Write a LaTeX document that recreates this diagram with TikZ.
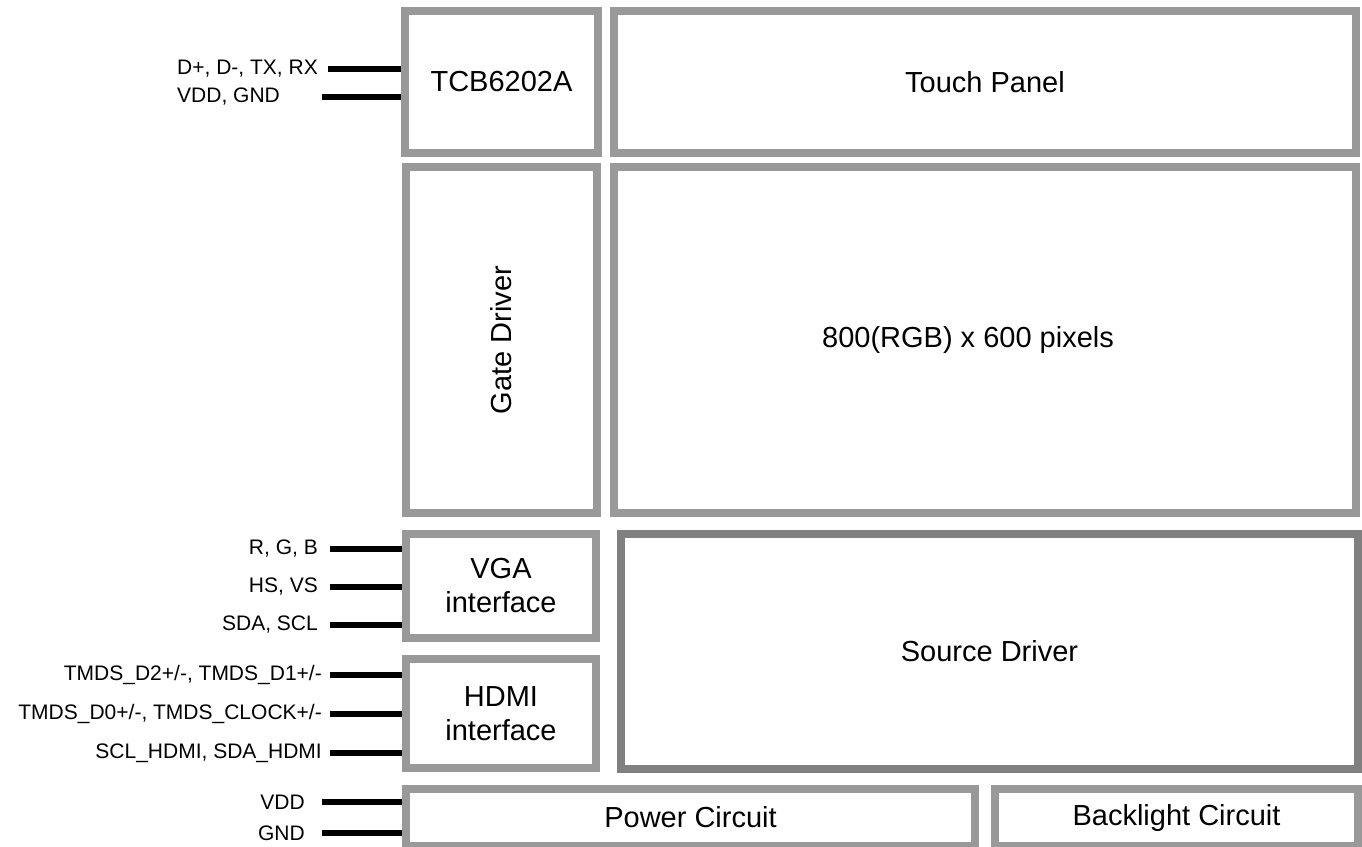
\documentclass[tikz,border=0pt]{standalone}
\usepackage{fontspec}
\setmainfont{Liberation Sans}
\usepackage{tikz}
\usetikzlibrary{positioning}

\definecolor{boxgray}{RGB}{153,153,153}
\definecolor{srcgray}{RGB}{128,128,128}

\begin{document}
\begin{tikzpicture}[
  x=1pt, y=-1pt,
  blk/.style={draw=boxgray, line width=8pt, fill=white, inner sep=0pt, align=center,
    font=\fontsize{29}{34}\selectfont},
  sig/.style={inner sep=0pt, font=\fontsize{21}{25}\selectfont},
  wire/.style={line width=5.5pt, black}
]
\useasboundingbox (0,0) rectangle (1362,846);

% panel blocks
\node[blk, minimum width=193pt, minimum height=142pt] (tcb) at (501.5,82) {TCB6202A};
\node[blk, minimum width=742pt, minimum height=142pt] (touch) at (985,82) {Touch Panel};
\node[blk, minimum width=191pt, minimum height=346pt] (gate) at (501.5,340) {\rotatebox{90}{Gate Driver}};
\node[blk, minimum width=742pt, minimum height=346pt] (pixels) at (985,340) {\hspace*{-34pt}800(RGB) x 600 pixels};
\node[blk, minimum width=190pt, minimum height=104pt] (vga) at (501,586) {VGA\\interface};
\node[blk, minimum width=190pt, minimum height=109pt] (hdmi) at (501,713.5) {HDMI\\interface};
\node[blk, draw=srcgray, minimum width=737pt, minimum height=235pt] (src) at (989.5,651.5) {\raisebox{-6pt}{Source Driver}};
\node[blk, minimum width=569pt, minimum height=57pt] (power) at (690.5,817.5) {Power Circuit};
\node[blk, minimum width=363pt, minimum height=57pt] (backlight) at (1176.5,817.5) {Backlight Circuit};

% touch controller pins
\coordinate (usb) at (328,69);
\coordinate (usbpwr) at (322,97);
\draw[wire] (usb) -- (usb -| tcb.west);
\draw[wire] (usbpwr) -- (usbpwr -| tcb.west);
\node[sig, anchor=west] (usb-lbl) at (177,69) {D+, D-, TX, RX};
\node[sig, anchor=west] (usbpwr-lbl) at (177,97) {VDD, GND};

% VGA pins
\foreach \y/\nm/\txt in {549/rgb/{R, G, B}, 587/sync/{HS, VS}, 625/ddc/{SDA, SCL}} {
  \coordinate (\nm) at (330,\y);
  \draw[wire] (\nm) -- (\nm -| vga.west);
  \node[sig, anchor=east] (\nm-lbl) at ([xshift=-12pt]\nm) {\txt};
}

% HDMI pins
\foreach \y/\nm/\txt in {675/tmdsa/{TMDS\_D2+/-, TMDS\_D1+/-}, 714/tmdsb/{TMDS\_D0+/-, TMDS\_CLOCK+/-}, 753/hddc/{SCL\_HDMI, SDA\_HDMI}} {
  \coordinate (\nm) at (330,\y);
  \draw[wire] (\nm) -- (\nm -| hdmi.west);
  \node[sig, anchor=east] (\nm-lbl) at ([xshift=-8pt]\nm) {\txt};
}

% supply pins
\foreach \y/\nm/\txt in {802/vdd/VDD, 833/gnd/GND} {
  \coordinate (\nm) at (322,\y);
  \draw[wire] (\nm) -- (\nm -| power.west);
  \node[sig, anchor=east] (\nm-lbl) at ([xshift=-17pt]\nm) {\txt};
}
\end{tikzpicture}
\end{document}
